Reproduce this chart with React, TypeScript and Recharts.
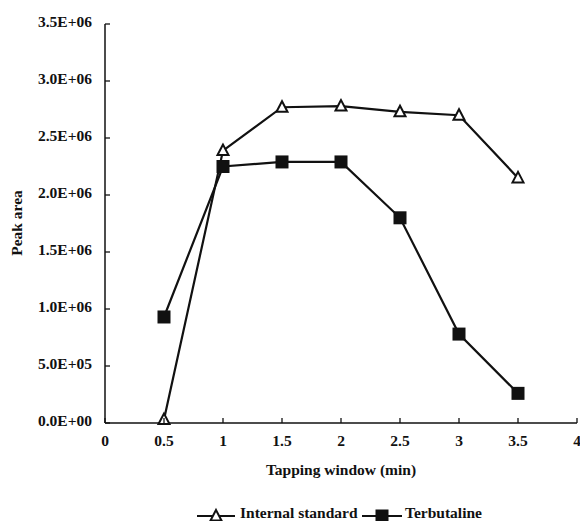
import React from 'react';
import { LineChart, Line, XAxis, YAxis, Label } from 'recharts';

const tappingWindow = [0.5, 1, 1.5, 2, 2.5, 3, 3.5];
const internalStandard = [0.03e6, 2.39e6, 2.77e6, 2.78e6, 2.73e6, 2.7e6, 2.15e6];
const terbutaline = [0.93e6, 2.25e6, 2.29e6, 2.29e6, 1.8e6, 0.78e6, 0.26e6];
const xTicks = [0, 0.5, 1, 1.5, 2, 2.5, 3, 3.5, 4];
const yTicks = [0, 0.5e6, 1e6, 1.5e6, 2e6, 2.5e6, 3e6, 3.5e6];

const data = tappingWindow.map((x, i) => ({
  x,
  internal: internalStandard[i],
  terb: terbutaline[i],
}));

const FONT = '"Liberation Serif", "Times New Roman", serif';
const INK = '#111';

const fmtSci = (v: number) => {
  if (v === 0) return '0.0E+00';
  const e = Math.floor(Math.log10(v) + 1e-9);
  const m = v / Math.pow(10, e);
  return `${m.toFixed(1)}E+${String(e).padStart(2, '0')}`;
};

const textStyle = { fontFamily: FONT, fontWeight: 700, fontSize: 15.5, fill: INK };

const XTick = (props: any) => {
  const { x, y, payload } = props;
  return (
    <g>
      <line x1={x} x2={x} y1={y} y2={y - 5} stroke={INK} strokeWidth={1.3} />
      <text x={x} y={y + 23} textAnchor="middle" style={textStyle}>
        {String(payload.value)}
      </text>
    </g>
  );
};

const YTick = (props: any) => {
  const { x, y, payload } = props;
  return (
    <g>
      <line x1={x} x2={x + 5} y1={y} y2={y} stroke={INK} strokeWidth={1.3} />
      <text x={x - 13} y={y + 3} textAnchor="end" style={textStyle}>
        {fmtSci(payload.value)}
      </text>
    </g>
  );
};

const Triangle = ({ cx, cy }: { cx: number; cy: number }) => (
  <polygon
    points={`${cx},${cy - 6} ${cx - 5.5},${cy + 4.5} ${cx + 5.5},${cy + 4.5}`}
    fill="#fff"
    stroke={INK}
    strokeWidth={2}
  />
);

const Square = ({ cx, cy }: { cx: number; cy: number }) => (
  <rect x={cx - 6.5} y={cy - 6.5} width={13} height={13} fill={INK} />
);

const renderTriangle = (p: any) => <Triangle key={`t-${p.index}`} cx={p.cx} cy={p.cy} />;
const renderSquare = (p: any) => <Square key={`s-${p.index}`} cx={p.cx} cy={p.cy} />;

const legendItems = [
  { name: 'Internal standard', marker: 'triangle', x0: 197, x1: 235, tx: 240 },
  { name: 'Terbutaline', marker: 'square', x0: 362, x1: 402, tx: 405 },
];

export default function App() {
  return (
    <div style={{ position: 'absolute', left: 0, top: 0, width: 580, height: 521, background: '#fff' }}>
      <LineChart width={580} height={521} data={data} margin={{ top: 24, right: 3, left: 0, bottom: 0 }}>
        <XAxis
          dataKey="x"
          type="number"
          domain={[0, 4]}
          ticks={xTicks}
          interval={0}
          height={98}
          tickSize={0}
          tickMargin={0}
          tick={<XTick />}
          axisLine={{ stroke: INK, strokeWidth: 1.5 }}
          tickLine={false}
        >
          <Label
            content={() => (
              <text x={341} y={475} textAnchor="middle" style={textStyle}>
                Tapping window (min)
              </text>
            )}
          />
        </XAxis>
        <YAxis
          type="number"
          domain={[0, 3.5e6]}
          ticks={yTicks}
          interval={0}
          width={105}
          tickSize={0}
          tickMargin={0}
          tick={<YTick />}
          axisLine={{ stroke: INK, strokeWidth: 1.5 }}
          tickLine={false}
        >
          <Label
            content={() => (
              <text transform="translate(22,223) rotate(-90)" textAnchor="middle" style={textStyle}>
                Peak area
              </text>
            )}
          />
        </YAxis>
        <Line
          type="linear"
          dataKey="internal"
          name="Internal standard"
          stroke={INK}
          strokeWidth={2.2}
          dot={renderTriangle}
          activeDot={false}
          isAnimationActive={false}
        />
        <Line
          type="linear"
          dataKey="terb"
          name="Terbutaline"
          stroke={INK}
          strokeWidth={2.2}
          dot={renderSquare}
          activeDot={false}
          isAnimationActive={false}
        />
      </LineChart>
      <svg width={580} height={521} style={{ position: 'absolute', left: 0, top: 0, pointerEvents: 'none' }}>
        {legendItems.map((it) => {
          const mid = (it.x0 + it.x1) / 2;
          return (
            <g key={it.name}>
              <line x1={it.x0} x2={it.x1} y1={516} y2={516} stroke={INK} strokeWidth={2} />
              {it.marker === 'triangle' ? <Triangle cx={mid} cy={516} /> : <Square cx={mid} cy={516} />}
              <text x={it.tx} y={518} style={textStyle}>
                {it.name}
              </text>
            </g>
          );
        })}
      </svg>
    </div>
  );
}
